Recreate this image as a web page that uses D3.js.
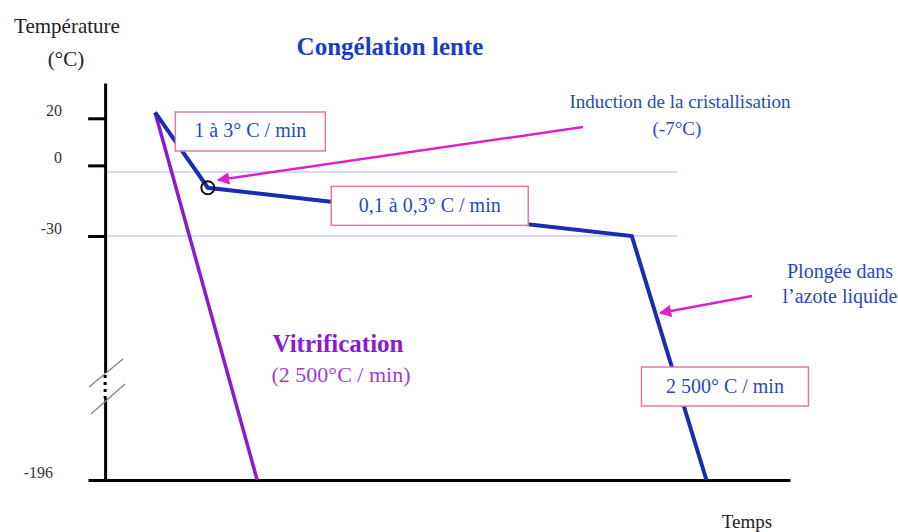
<!DOCTYPE html>
<html>
<head>
<meta charset="utf-8">
<script src="https://cdn.jsdelivr.net/npm/d3@7"></script>
<style>
  html, body { margin: 0; padding: 0; background: #fff; }
  svg { display: block; font-family: "Liberation Serif", "DejaVu Serif", serif; }
</style>
</head>
<body>
<div id="chart"></div>
<script>
// temperature ticks on the y axis
const yTicks = [20, 0, -30, -196];

// slow freezing curve (time, °C)
const slowTime = [7.3, 15.0, 76.9, 87.8];
const slowTemp = [22.5, -9.5, -30, -196];

// vitrification curve
const vitriTime = [7.3, 22.2];
const vitriTemp = [22.5, -196];

// light reference lines
const refTemps = [-2.8, -30];
const refEnd = 83.5;

// induction point
const inductionPoint = [15.0, -9.5];

// rate boxes: label, centre time, centre temp
const boxLabels = ["1 à 3° C / min", "0,1 à 0,3° C / min", "2 500° C / min"];
const boxTime = [21.2, 47.4, 90.5];
const boxTemp = [14.4, -17.2, -132.4];

const w = 898, h = 532;

const svg = d3.select('#chart')
  .append('svg')
  .attr('width', w)
  .attr('height', h);

const x = d3.scaleLinear().domain([-2.5, 100]).range([88, 790]);
const y = d3.scaleLinear().domain([-196, -30, 35]).range([480, 236, 83]);

const blue = '#1a2cb0';
const textBlue = '#2a48c0';
const magenta = '#dd22cc';
const purple = '#8a1ccc';
const pink = '#e07aa8';

// reference lines
svg.selectAll('.ref')
  .data(refTemps)
  .enter()
  .append('line')
  .attr('x1', x(0))
  .attr('x2', x(refEnd))
  .attr('y1', d => y(d))
  .attr('y2', d => y(d))
  .attr('stroke', '#a8b4ee')
  .attr('stroke-width', 1);

// x axis (no ticks)
svg.append('g')
  .attr('transform', 'translate(0,' + y(-196) + ')')
  .call(d3.axisBottom(x).ticks(0).tickSizeOuter(0))
  .call(g => g.select('.domain').attr('stroke', '#000').attr('stroke-width', 3));

// y axis
const yAxis = d3.axisLeft(y)
  .tickValues(yTicks)
  .tickFormat(d => String(d))
  .tickSize(17)
  .tickSizeOuter(0)
  .tickPadding(26);

svg.append('g')
  .attr('transform', 'translate(' + x(0) + ',0)')
  .call(yAxis)
  .call(g => g.select('.domain').attr('stroke', '#000').attr('stroke-width', 3))
  .call(g => g.selectAll('.tick line').attr('stroke', '#000').attr('stroke-width', 3))
  .call(g => g.selectAll('.tick text')
    .attr('font-family', '"Liberation Serif", serif')
    .attr('font-size', 16)
    .attr('fill', '#333')
    .attr('dy', '-0.15em'))
  .call(g => g.selectAll('.tick').filter(d => d === -196).select('line').remove())
  .call(g => g.selectAll('.tick').filter(d => d === -196).select('text').attr('dx', -9));

// axis break
const bx = x(0);
svg.append('rect')
  .attr('x', bx - 3).attr('y', 373)
  .attr('width', 6).attr('height', 25)
  .attr('fill', '#fff');
svg.append('line')
  .attr('x1', bx).attr('x2', bx)
  .attr('y1', 375).attr('y2', 398)
  .attr('stroke', '#000')
  .attr('stroke-width', 3)
  .attr('stroke-dasharray', '3,4');
[[89, 387, 123, 359], [91, 414, 125, 384]].forEach(s => {
  svg.append('line')
    .attr('x1', s[0]).attr('y1', s[1]).attr('x2', s[2]).attr('y2', s[3])
    .attr('stroke', '#8a8a8a')
    .attr('stroke-width', 1.5);
});

const line = d3.line().x(d => x(d[0])).y(d => y(d[1]));

// vitrification line
svg.append('path')
  .datum(d3.zip(vitriTime, vitriTemp))
  .attr('d', line)
  .attr('fill', 'none')
  .attr('stroke', purple)
  .attr('stroke-width', 3.5);

// slow freezing line
svg.append('path')
  .datum(d3.zip(slowTime, slowTemp))
  .attr('d', line)
  .attr('fill', 'none')
  .attr('stroke', blue)
  .attr('stroke-width', 4)
  .attr('stroke-linejoin', 'miter');

// induction circle
svg.append('circle')
  .attr('cx', x(inductionPoint[0]))
  .attr('cy', y(inductionPoint[1]))
  .attr('r', 6.5)
  .attr('fill', 'none')
  .attr('stroke', '#111')
  .attr('stroke-width', 2);

// arrows
svg.append('defs').append('marker')
  .attr('id', 'arrow')
  .attr('viewBox', '0 0 10 10')
  .attr('refX', 9).attr('refY', 5)
  .attr('markerWidth', 5).attr('markerHeight', 5)
  .attr('markerUnits', 'strokeWidth')
  .attr('orient', 'auto')
  .append('path')
  .attr('d', 'M0,0 L10,5 L0,10 z')
  .attr('fill', magenta);

[[583, 127, 218, 180], [752, 296, 660, 313]].forEach(a => {
  svg.append('line')
    .attr('x1', a[0]).attr('y1', a[1]).attr('x2', a[2]).attr('y2', a[3])
    .attr('stroke', magenta)
    .attr('stroke-width', 2.5)
    .attr('marker-end', 'url(#arrow)');
});

// boxes
const boxW = [150, 197, 167], boxH = 39;
boxLabels.forEach((t, i) => {
  const cx = x(boxTime[i]), cy = y(boxTemp[i]);
  svg.append('rect')
    .attr('x', cx - boxW[i] / 2)
    .attr('y', cy - boxH / 2)
    .attr('width', boxW[i])
    .attr('height', boxH)
    .attr('fill', '#fff')
    .attr('stroke', pink)
    .attr('stroke-width', 1.5);
  svg.append('text')
    .attr('x', cx)
    .attr('y', cy + 6)
    .attr('text-anchor', 'middle')
    .attr('font-size', 20)
    .attr('fill', textBlue)
    .text(t);
});

// texts
function label(txt, px, py, size, color, weight) {
  svg.append('text')
    .attr('x', px).attr('y', py)
    .attr('text-anchor', 'middle')
    .attr('font-size', size)
    .attr('font-weight', weight || 'normal')
    .attr('fill', color)
    .text(txt);
}

label('Température', 67, 33, 21, '#222');
label('(°C)', 66, 66, 21, '#222');
label('Congélation lente', 390, 55, 25, '#1a3cc8', 'bold');
label('Induction de la cristallisation', 680, 108, 19, textBlue);
label('(-7°C)', 677, 135, 19, textBlue);
label('Plongée dans', 840, 278, 20, textBlue);
label('l\u2019azote liquide', 840, 303, 20, textBlue);
label('Vitrification', 338, 352, 25, purple, 'bold');
label('(2 500°C / min)', 341, 382, 22, '#a040d0');
label('Temps', 747, 528, 19, '#222');
</script>
</body>
</html>
